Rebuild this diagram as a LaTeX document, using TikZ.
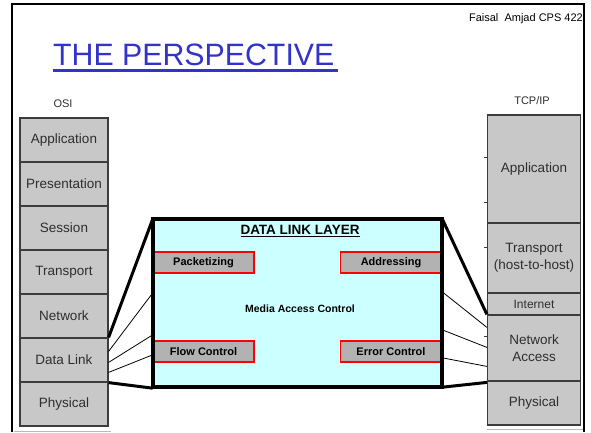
\documentclass[tikz,border=0pt]{standalone}
\usepackage{graphicx}
\usepackage{fontspec}
\setmainfont{Liberation Sans}
\definecolor{titleblue}{HTML}{3333CC}
\definecolor{layergray}{HTML}{C8C8C8}
\definecolor{layeredge}{HTML}{3C3C3C}
\definecolor{labelgray}{HTML}{2E2E2E}
\definecolor{dllcyan}{HTML}{CCFFFF}
\definecolor{subgray}{HTML}{B2B2B2}
\tikzset{
  stacklayer/.style={draw=layeredge, fill=layergray, line width=1.2pt,
    inner sep=0pt, text=labelgray, align=center,
    font=\fontsize{13.5}{17}\selectfont},
  osilayer/.style={stacklayer, minimum width=88pt, minimum height=44pt},
  tcplayer/.style={stacklayer, minimum width=93pt},
  subbox/.style={draw=red, line width=1.6pt, fill=subgray, inner sep=0pt,
    minimum width=101pt, minimum height=21pt,
    font=\bfseries\fontsize{11}{12}\selectfont},
  thickwire/.style={line width=3pt},
  thinwire/.style={line width=0.8pt},
  stacktitle/.style={text=labelgray, font=\fontsize{11}{12}\selectfont},
  tick/.style={draw=layeredge, line width=1pt}
}
\begin{document}
\begin{tikzpicture}[x=1pt, y=-1pt]
\useasboundingbox (0,0) rectangle (591,432);

% slide frame
\draw[line width=1.5pt] (12,432) -- (12,4) -- (584,4) -- (584,432);

% header
\node[anchor=east, inner sep=0pt, font=\fontsize{11}{12}\selectfont] (author) at (583,19) {Faisal\ \ Amjad CPS 422};
\node[anchor=base west, inner sep=0pt, text=titleblue, font=\fontsize{30}{32}\selectfont] (title) at (53,65) {\scalebox{1.01}[1.03]{THE PERSPECTIVE}};
\draw[titleblue, line width=3pt] ([yshift=-5.5pt]title.base west) -- ([xshift=3pt,yshift=-5.5pt]title.base east);

% OSI stack
\node[stacktitle] (osi) at (63,104) {OSI};
\node[osilayer] (osi-app) at (64,140) {Application};
\node[osilayer] (osi-pres) at (64,184) {Presentation};
\node[osilayer] (osi-ses) at (64,228) {Session};
\node[osilayer] (osi-tra) at (64,272) {Transport};
\node[osilayer] (osi-net) at (64,316) {Network};
\node[osilayer] (osi-dl) at (64,360) {Data Link};
\node[osilayer] (osi-phy) at (64,404) {Physical};
\draw[gray!55, line width=1pt] ([xshift=-5pt,yshift=-5pt]osi-phy.south west) -- ([xshift=2pt,yshift=-5pt]osi-phy.south east);

% TCP/IP stack
\node[stacktitle] (tcpip) at (532,101) {TCP/IP};
\node[tcplayer, minimum height=108pt] (tcp-app) at (534,169) {Application};
\node[tcplayer, minimum height=70pt] (tcp-tra) at (534,258) {Transport\\(host-to-host)};
\node[tcplayer, minimum height=22pt, font=\fontsize{12}{13}\selectfont] (tcp-int) at (534,304) {Internet};
\node[tcplayer, minimum height=66pt] (tcp-na) at (534,348) {Network\\Access};
\node[tcplayer, minimum height=44pt] (tcp-phy) at (534,403) {Physical};
\draw[gray!55, line width=1pt] ([yshift=-4pt]tcp-phy.south west) -- ([xshift=2pt,yshift=-4pt]tcp-phy.south east);
\draw[tick] ([xshift=-3pt,yshift=-43pt]tcp-app.north west) -- ([yshift=-43pt]tcp-app.north west);
\draw[tick] ([xshift=-3pt,yshift=-88pt]tcp-app.north west) -- ([yshift=-88pt]tcp-app.north west);
\draw[tick] ([xshift=-3pt,yshift=-25pt]tcp-tra.north west) -- ([yshift=-25pt]tcp-tra.north west);
\draw[tick] ([xshift=-3pt,yshift=-22pt]tcp-na.north west) -- ([yshift=-22pt]tcp-na.north west);

% data link layer panel (background)
\node[fill=dllcyan, inner sep=0pt, minimum width=289pt, minimum height=168pt] (dll) at (297.5,303) {};

% connectors from the OSI data link layer
\draw[thickwire] (osi-dl.north east) -- (dll.north west);
\draw[thinwire] ([yshift=-14pt]osi-dl.north east) -- ([yshift=-74pt]dll.north west);
\draw[thinwire] ([yshift=-25pt]osi-dl.north east) -- ([yshift=-116pt]dll.north west);
\draw[thinwire] ([yshift=-35pt]osi-dl.north east) -- ([yshift=-136pt]dll.north west);
\draw[thickwire] (osi-dl.south east) -- ([yshift=-1pt]dll.south west);

% connectors to the TCP/IP network access layer
\draw[thickwire] (dll.north east) -- (tcp-na.north west);
\draw[thinwire] ([yshift=-73pt]dll.north east) -- ([yshift=-13pt]tcp-na.north west);
\draw[thinwire] ([yshift=-111pt]dll.north east) -- ([yshift=-33pt]tcp-na.north west);
\draw[thinwire] ([yshift=-139pt]dll.north east) -- ([yshift=-52pt]tcp-na.north west);
\draw[thickwire] (dll.south east) -- ([yshift=-2pt]tcp-phy.north west);

% panel contents
\node[font=\bfseries\fontsize{13.5}{15}\selectfont] (dlltitle) at (300,231) {\underline{DATA LINK LAYER}};
\node[subbox] (packet) at (203.5,262.5) {Packetizing};
\node[subbox] (address) at (391,262.5) {Addressing};
\node[subbox] (flow) at (203.5,351.5) {Flow Control};
\node[subbox] (error) at (391,351.5) {Error Control};
\node[font=\bfseries\fontsize{10.5}{12}\selectfont] (mac) at (300,309) {Media Access Control};

% panel border on top
\draw[line width=3.5pt] (dll.north west) rectangle (dll.south east);
\end{tikzpicture}
\end{document}
